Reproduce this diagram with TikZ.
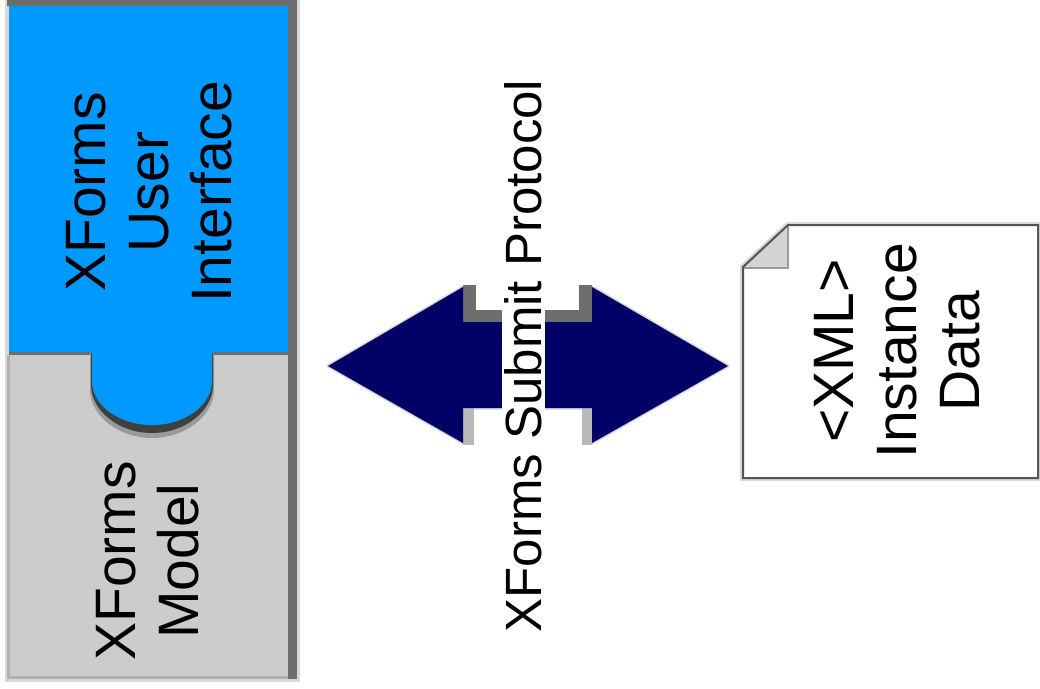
\documentclass[tikz,border=0pt]{standalone}
\usepackage{fontspec}
\setmainfont{Liberation Sans}
\definecolor{uiblue}{HTML}{0099FF}
\definecolor{modelgray}{HTML}{CCCCCC}
\definecolor{navyarrow}{HTML}{000066}
\definecolor{shdark}{HTML}{6E6E6E}
\definecolor{shmid}{HTML}{9A9A9A}
\definecolor{shsoft}{HTML}{B8B8B8}
\definecolor{shlight}{HTML}{D8D8D8}
\definecolor{shdeep}{HTML}{404040}
\definecolor{edgegray}{HTML}{B0B0B0}
\definecolor{docline}{HTML}{555555}
\definecolor{foldgray}{HTML}{D4D4D4}
\tikzset{
  vlabel/.style={rotate=90, align=center, inner sep=0pt, font=\fontsize{57}{63}\selectfont},
  protolabel/.style={rotate=90, inner sep=0pt, font=\fontsize{51}{60}\selectfont},
}
\begin{document}
\begin{tikzpicture}[x=1pt,y=-1pt]
\useasboundingbox (0,0) rectangle (1040,688);
\fill[white] (0,0) rectangle (1040,688);

% ---- left column: halo and shadow
\fill[shlight] (5,0) rectangle (300,682);
\fill[shdark] (7,0) rectangle (297,6);
\fill[shdark] (288,0) rectangle (297,679);
\fill[edgegray] (7,355) rectangle (10,679);
% blue user interface box
\fill[uiblue] (9,6) rectangle (288,353);
% gray model box
\fill[modelgray] (10,355) rectangle (288,676);
\fill[edgegray] (10,676) rectangle (288,679);
\fill[shdark] (9,352) rectangle (288,355);

% tab shadow and tab
\fill[shmid] (90,353) -- (90,390) .. controls (90,415) and (118,438) .. (152,438)
  .. controls (186,438) and (214,415) .. (214,390) -- (214,353) -- cycle;
\fill[shdeep] (91,353) -- (91,385) .. controls (91,410) and (118,433) .. (152,433)
  .. controls (186,433) and (213,410) .. (213,385) -- (213,353) -- cycle;
\fill[uiblue] (92,350) -- (92,381) .. controls (92,405.3) and (118.9,425) .. (152,425)
  .. controls (185.1,425) and (212,405.3) .. (212,381) -- (212,350) -- cycle;

\node[vlabel] (ui) at (149,192) {XForms\\User\\Interface};
\node[vlabel] (model) at (148,561) {XForms\\Model};

% ---- double arrow
\draw[shlight, line width=3pt, line join=round] (328,366) -- (463,287) -- (463,322) -- (592,322) -- (592,287)
  -- (728,366) -- (592,443) -- (592,408) -- (463,408) -- (463,443) -- cycle;
\fill[shdark] (463,285) rectangle (476,322);
\fill[shdark] (579,285) rectangle (592,322);
\fill[shdark] (463,310) rectangle (592,322);
\fill[shsoft] (463,408) rectangle (474,445);
\fill[shsoft] (582,408) rectangle (592,445);
\fill[navyarrow] (328,366) -- (463,287) -- (463,322) -- (592,322) -- (592,287)
  -- (728,366) -- (592,443) -- (592,408) -- (463,408) -- (463,443) -- cycle;
\fill[white] (502,300) rectangle (545,430);
\node[protolabel] (proto) at (523,356) {XForms Submit Protocol};

% ---- XML document
\draw[shlight, line width=6pt, line join=miter] (743,267) -- (788,225) -- (1038,225) -- (1038,478) -- (743,478) -- cycle;
\fill[white] (743,267) -- (788,225) -- (1038,225) -- (1038,478) -- (743,478) -- cycle;
\fill[foldgray] (743,268) -- (788,225) -- (788,268) -- cycle;
\draw[shmid, line width=2pt] (743,268) -- (788,268) -- (788,225);
\draw[docline, line width=2pt, line join=miter] (743,267) -- (788,225) -- (1038,225) -- (1038,478) -- (743,478) -- cycle;
\node[vlabel] (xml) at (897,351) {<XML>\\Instance\\Data};
\end{tikzpicture}
\end{document}
